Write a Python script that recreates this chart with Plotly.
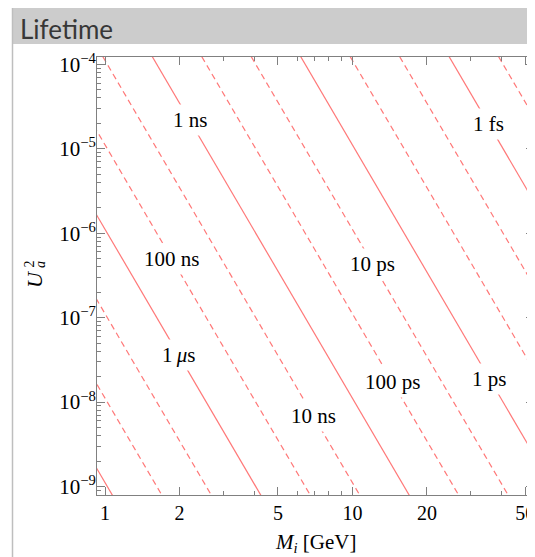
import numpy as np
import plotly.graph_objects as go

# ---------------- data ----------------
# iso-lifetime lines: tau = K / (U^2 * M^5)
K_SGEV5 = 10 ** -11.955          # s * GeV^5
tau_values = [1e-3, 1e-4, 1e-5, 1e-6, 1e-7, 1e-8, 1e-9, 1e-10,
              1e-11, 1e-12, 1e-13, 1e-14, 1e-15, 1e-16]
solid_taus = [1e-3, 1e-6, 1e-9, 1e-12, 1e-15]

label_text = ["1 ns", "100 ns", "1\u2009<i>\u03bc</i>s", "10 ns",
              "10 ps", "100 ps", "1 ps", "1 fs"]
label_tau = [1e-9, 1e-7, 1e-6, 1e-8, 1e-11, 1e-10, 1e-12, 1e-15]
label_U2 = [2.17e-5, 5.0e-7, 3.57e-8, 6.93e-9, 4.34e-7, 1.73e-8, 1.89e-8, 1.98e-5]

x_major = [1, 2, 5, 10, 20, 50]
x_major_text = ["1", "2", "5", "10", "20", "50"]
x_minor = [3, 4, 6, 7, 8, 9, 30, 40]
y_exponents = [-9, -8, -7, -6, -5, -4]

# ---------------- styles ----------------
LINE_COLOR = "rgb(255,120,120)"
FRAME = "rgb(128,128,128)"
SERIF = "Liberation Serif"

OFF = 8                      # page body margin
W, H = 535 - OFF, 557 - OFF
ML, MR, MT, MB = 89, 1, 49, 62
PW, PH = W - ML - MR, H - MT - MB


def px(xp):                  # screen pixel -> paper x
    return (xp - OFF - ML) / PW


def py(yp):                  # screen pixel -> paper y
    return (H - MB - (yp - OFF)) / PH


fig = go.Figure()

U2_span = np.array([1e-10, 1e-3])
for tau in tau_values:
    M = (K_SGEV5 / (tau * U2_span)) ** 0.2
    solid = any(abs(np.log10(tau) - np.log10(s)) < 1e-6 for s in solid_taus)
    fig.add_trace(go.Scatter(
        x=M, y=U2_span, mode="lines",
        line=dict(color=LINE_COLOR, width=1.2,
                  dash="solid" if solid else "6px,4px"),
        hoverinfo="skip", showlegend=False))

annotations = []
for txt, tau, u2 in zip(label_text, label_tau, label_U2):
    m = (K_SGEV5 / (tau * u2)) ** 0.2
    annotations.append(dict(
        x=np.log10(m), y=np.log10(u2), xref="x", yref="y",
        xanchor="center", yanchor="middle",
        text=txt, showarrow=False, bgcolor="white", borderpad=3,
        font=dict(family=SERIF, size=21, color="black")))

# title band text
annotations.append(dict(
    x=px(18), y=py(29), xref="paper", yref="paper", xanchor="left",
    yanchor="middle", text="Lifetime", showarrow=False,
    font=dict(family="Lato", size=26, color="rgb(55,55,55)")))

# axis titles
annotations.append(dict(
    x=px(315), y=py(543), xref="paper", yref="paper",
    xanchor="center", yanchor="middle",
    text="<i>M</i><sub><i>i</i></sub> [GeV]", showarrow=False,
    font=dict(family=SERIF, size=21, color="black")))
annotations.append(dict(
    x=px(34), y=py(279), xref="paper", yref="paper", textangle=-90,
    xanchor="center", yanchor="middle",
    text="<i>U</i>", showarrow=False,
    font=dict(family=SERIF, size=22, color="black")))
annotations.append(dict(
    x=px(28.5), y=py(264), xref="paper", yref="paper", textangle=-90,
    xanchor="center", yanchor="middle",
    text="2", showarrow=False,
    font=dict(family=SERIF, size=14, color="black")))
annotations.append(dict(
    x=px(40), y=py(265), xref="paper", yref="paper", textangle=-90,
    xanchor="center", yanchor="middle",
    text="<i>a</i>", showarrow=False,
    font=dict(family=SERIF, size=14, color="black")))

shapes = [
    dict(type="rect", xref="paper", yref="paper", x0=px(12), x1=px(540),
         y0=py(44), y1=py(7), fillcolor="rgb(204,204,204)",
         line=dict(width=0), layer="below"),
    dict(type="line", xref="paper", yref="paper", x0=px(12.5), x1=px(12.5),
         y0=py(7), y1=py(570), line=dict(color="rgb(190,190,190)", width=1.5)),
]

y_minor = [m * 10.0 ** e for e in range(-10, -3) for m in range(2, 10)]

fig.update_layout(
    width=W, height=H,
    margin=dict(l=ML, r=MR, t=MT, b=MB),
    paper_bgcolor="white", plot_bgcolor="white",
    showlegend=False,
    annotations=annotations,
    shapes=shapes,
    xaxis=dict(
        type="log", range=[-0.0327, 1.734],
        tickmode="array", tickvals=x_major, ticktext=x_major_text,
        ticks="inside", ticklen=8, tickwidth=1, tickcolor=FRAME,
        showline=True, linecolor=FRAME, linewidth=1, mirror="ticks",
        showgrid=False, zeroline=False, ticklabeloverflow="allow",
        tickfont=dict(family=SERIF, size=20, color="black"),
        minor=dict(tickmode="array", tickvals=x_minor, ticks="inside",
                   ticklen=4, tickcolor=FRAME, showgrid=False),
    ),
    yaxis=dict(
        type="log", range=[-9.1007, -3.9135],
        tickmode="array", tickvals=[10.0 ** e for e in y_exponents],
        ticktext=["10<sup>\u2212%d</sup>" % (-e) for e in y_exponents],
        ticks="inside", ticklen=8, tickwidth=1, tickcolor=FRAME,
        showline=True, linecolor=FRAME, linewidth=1, mirror="ticks",
        showgrid=False, zeroline=False, ticklabelstandoff=-4,
        tickfont=dict(family=SERIF, size=21, color="black"),
        minor=dict(tickmode="array", tickvals=y_minor, ticks="inside",
                   ticklen=4, tickcolor=FRAME, showgrid=False),
    ),
)

fig.write_html("out.html")
